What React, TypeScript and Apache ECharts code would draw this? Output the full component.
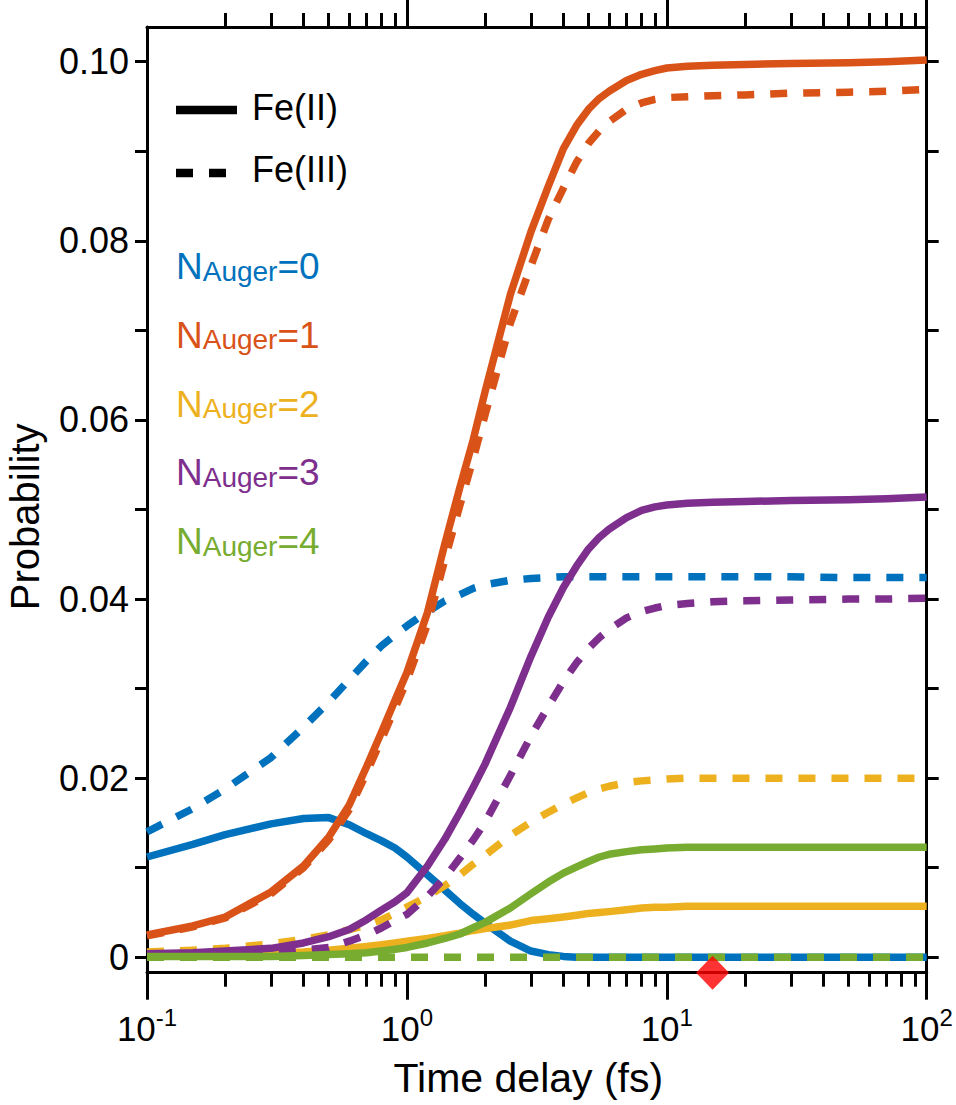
import React, { useEffect, useRef } from "react";
import * as echarts from "echarts";

// ---------- data ----------
const T = [0.1, 0.15, 0.2, 0.3, 0.4, 0.5, 0.6, 0.7, 0.8, 0.9, 1, 1.2, 1.4, 1.6, 1.8, 2, 2.5, 3, 3.5, 4, 4.5, 5, 5.5, 6, 7, 8, 9, 10, 12, 15, 20, 30, 50, 70, 100];

const N0_FE2 = [0.0112, 0.0126, 0.0137, 0.0149, 0.0155, 0.0156, 0.0148, 0.0138, 0.013, 0.0122, 0.0112, 0.0092, 0.0075, 0.006, 0.0048, 0.0038, 0.0018, 0.0007, 0.0003, 0.0001, 0, 0, 0, 0, 0, 0, 0, 0, 0, 0, 0, 0, 0, 0, 0];
const N0_FE3 = [0.014, 0.0166, 0.0188, 0.0223, 0.0257, 0.0285, 0.031, 0.0331, 0.0348, 0.036, 0.037, 0.0386, 0.0398, 0.0405, 0.0412, 0.0416, 0.0421, 0.0423, 0.0424, 0.0425, 0.0425, 0.0425, 0.0425, 0.0425, 0.0425, 0.0425, 0.0425, 0.0425, 0.0425, 0.0425, 0.0425, 0.0425, 0.0424, 0.0424, 0.0424];
const N1_FE2 = [0.0025, 0.0035, 0.0045, 0.0073, 0.0102, 0.0134, 0.017, 0.0213, 0.0252, 0.0287, 0.0318, 0.0385, 0.0462, 0.0525, 0.0578, 0.0632, 0.074, 0.081, 0.0861, 0.0903, 0.0929, 0.0947, 0.0959, 0.0967, 0.0979, 0.0986, 0.099, 0.0993, 0.0995, 0.0996, 0.0997, 0.0998, 0.0999, 0.1, 0.1002];
const N1_FE3 = [0.0024, 0.0034, 0.0044, 0.0071, 0.01, 0.0131, 0.0165, 0.0206, 0.0244, 0.0278, 0.0309, 0.0372, 0.0444, 0.0505, 0.0557, 0.0606, 0.0708, 0.0772, 0.0824, 0.0859, 0.0888, 0.0909, 0.0923, 0.0933, 0.0947, 0.0954, 0.0958, 0.096, 0.0961, 0.0962, 0.0963, 0.0965, 0.0966, 0.0967, 0.0969];
const N2_FE2 = [0.0002, 0.0003, 0.0003, 0.0005, 0.0006, 0.0008, 0.001, 0.0012, 0.0014, 0.0016, 0.0018, 0.0021, 0.0024, 0.0027, 0.003, 0.0032, 0.0036, 0.0041, 0.0043, 0.0045, 0.0047, 0.0049, 0.005, 0.0051, 0.0053, 0.0055, 0.0056, 0.0056, 0.0057, 0.0057, 0.0057, 0.0057, 0.0057, 0.0057, 0.0057];
const N2_FE3 = [0.0006, 0.0008, 0.001, 0.0015, 0.002, 0.0025, 0.0031, 0.0036, 0.0042, 0.0049, 0.0056, 0.0068, 0.008, 0.0092, 0.0104, 0.0114, 0.0136, 0.0151, 0.0162, 0.0171, 0.0178, 0.0184, 0.0188, 0.0191, 0.0195, 0.0197, 0.0198, 0.0199, 0.02, 0.02, 0.02, 0.02, 0.02, 0.02, 0.02];
const N3_FE2 = [0.0004, 0.0005, 0.0007, 0.001, 0.0016, 0.0023, 0.0031, 0.0042, 0.0053, 0.0062, 0.0072, 0.0102, 0.0132, 0.0162, 0.019, 0.0216, 0.0279, 0.0336, 0.038, 0.0413, 0.0437, 0.0456, 0.0469, 0.0478, 0.0491, 0.0499, 0.0503, 0.0505, 0.0507, 0.0508, 0.0509, 0.051, 0.0511, 0.0512, 0.0514];
const N3_FE3 = [0.0003, 0.0003, 0.0004, 0.0005, 0.0008, 0.0011, 0.0018, 0.0025, 0.0033, 0.0041, 0.0048, 0.0068, 0.0089, 0.0111, 0.0131, 0.0151, 0.0203, 0.0247, 0.028, 0.0308, 0.0329, 0.0345, 0.0357, 0.0366, 0.0379, 0.0386, 0.039, 0.0393, 0.0395, 0.0397, 0.0398, 0.0399, 0.04, 0.04, 0.0401];
const N4_FE2 = [0.0001, 0.0001, 0.0001, 0.0001, 0.0002, 0.0003, 0.0004, 0.0005, 0.0007, 0.0009, 0.0011, 0.0016, 0.0021, 0.0026, 0.0033, 0.0039, 0.0055, 0.0071, 0.0084, 0.0094, 0.0101, 0.0107, 0.0112, 0.0115, 0.0118, 0.012, 0.0121, 0.0122, 0.0123, 0.0123, 0.0123, 0.0123, 0.0123, 0.0123, 0.0123];
const N4_FE3 = [0, 0, 0, 0, 0, 0, 0, 0, 0, 0, 0, 0, 0, 0, 0, 0, 0, 0, 0, 0, 0, 0, 0, 0, 0, 0, 0, 0, 0, 0, 0, 0, 0, 0, 0];

const FE2_SETS = [N0_FE2, N1_FE2, N2_FE2, N3_FE2, N4_FE2];
const FE3_SETS = [N0_FE3, N1_FE3, N2_FE3, N3_FE3, N4_FE3];
const N_LABELS = ["0", "1", "2", "3", "4"];
const LEGEND_OX = ["Fe(II)", "Fe(III)"];

const MARKER_T = [15];

const Y_TICKS = [0, 0.01, 0.02, 0.03, 0.04, 0.05, 0.06, 0.07, 0.08, 0.09, 0.1];
const Y_LABELS = [0, 0.02, 0.04, 0.06, 0.08, 0.1];
const X_MAJOR = [0.1, 1, 10, 100];
const X_MAJOR_TOP = [1, 10, 100];
const X_MINOR = [0.2, 0.3, 0.4, 0.5, 0.6, 0.7, 0.8, 0.9, 2, 3, 4, 5, 6, 7, 8, 9, 20, 30, 40, 50, 60, 70, 80, 90];

// ---------- style ----------
const COLORS = ["#0072BD", "#D95319", "#EDB120", "#7E2F8E", "#77AC30"];
const FONT = "'Liberation Sans', Arial, Helvetica, sans-serif";
const Y_MIN = -0.00172;
const Y_MAX = 0.10388;
const LW = 7.5;
const DASH = [17, 16];

function buildOption() {
  const series: any[] = [];
  for (let i = 0; i < 5; i++) {
    [FE2_SETS[i], FE3_SETS[i]].forEach((vals, k) => {
      series.push({
        type: "line",
        name: `N${i}-${LEGEND_OX[k]}`,
        xAxisIndex: 0,
        yAxisIndex: 0,
        data: T.map((t, j) => [t, vals[j]]),
        symbol: "none",
        showSymbol: false,
        silent: true,
        clip: false,
        lineStyle: {
          color: COLORS[i],
          width: LW,
          type: k === 0 ? "solid" : DASH,
          cap: "butt",
          join: "round",
        },
        emphasis: { disabled: true },
      });
    });
  }
  series.push({
    type: "scatter",
    xAxisIndex: 0,
    yAxisIndex: 0,
    data: MARKER_T.map((t) => [t, Y_MIN]),
    symbol: "diamond",
    symbolSize: [33, 34],
    itemStyle: { color: "#FF0000" },
    clip: false,
    silent: true,
    z: 10,
  });

  const axisLineStyle = { color: "#000", width: 3 };
  const baseX = {
    type: "log",
    logBase: 10,
    min: 0.1,
    max: 100,
    splitLine: { show: false },
    minorTick: { show: false },
  };
  const xLabelRich = {
    b: { fontSize: 35, lineHeight: 40, color: "#000", fontFamily: FONT, verticalAlign: "bottom" },
    s: { fontSize: 24, lineHeight: 24, color: "#000", fontFamily: FONT, verticalAlign: "top" },
  };

  const graphic: any[] = [
    { type: "line", shape: { x1: 176, y1: 110, x2: 237, y2: 110 }, style: { stroke: "#000", lineWidth: 8.5 }, silent: true },
    { type: "line", shape: { x1: 176, y1: 173, x2: 227, y2: 173 }, style: { stroke: "#000", lineWidth: 8.5, lineDash: DASH }, silent: true },
    { type: "text", x: 252, y: 107, style: { text: LEGEND_OX[0], fontSize: 36, fontFamily: FONT, fill: "#000", verticalAlign: "middle" }, silent: true },
    { type: "text", x: 252, y: 169, style: { text: LEGEND_OX[1], fontSize: 36, fontFamily: FONT, fill: "#000", verticalAlign: "middle" }, silent: true },
  ];
  N_LABELS.forEach((n, i) => {
    graphic.push({
      type: "text",
      x: 176,
      y: 260 + i * 68.75,
      silent: true,
      style: {
        text: `{n|N}{s|Auger}{n|=${n}}`,
        fill: COLORS[i],
        fontFamily: FONT,
        verticalAlign: "middle",
        rich: {
          n: { fontSize: 37, lineHeight: 50, fill: COLORS[i], fontFamily: FONT, verticalAlign: "bottom" },
          s: { fontSize: 28, lineHeight: 28, fill: COLORS[i], fontFamily: FONT, verticalAlign: "bottom" },
        },
      },
    });
  });

  return {
    animation: false,
    backgroundColor: "#fff",
    grid: { left: 147, right: 29.3, top: 27, bottom: 132.3, containLabel: false, outerBoundsMode: "none" },
    xAxis: [
      {
        ...baseX,
        position: "bottom",
        axisLine: { show: true, onZero: false, lineStyle: axisLineStyle },
        axisTick: { show: true, inside: false, length: 27, lineStyle: axisLineStyle, customValues: X_MAJOR },
        axisLabel: {
          show: true,
          customValues: X_MAJOR,
          margin: 33,
          formatter: (v: number) => `{b|10}{s|${Math.round(Math.log10(v))}}`,
          rich: xLabelRich,
        },
        name: "Time delay (fs)",
        nameLocation: "middle",
        nameGap: 85,
        nameTextStyle: { fontSize: 41, color: "#000", fontFamily: FONT, padding: [0, 17, 0, 0] },
      },
      {
        ...baseX,
        position: "top",
        axisLine: { show: true, onZero: false, lineStyle: axisLineStyle },
        axisTick: { show: true, inside: false, length: 27, lineStyle: axisLineStyle, customValues: X_MAJOR_TOP },
        axisLabel: { show: false },
      },
      {
        ...baseX,
        position: "bottom",
        axisLine: { show: false, onZero: false },
        axisTick: { show: true, inside: false, length: 14, lineStyle: axisLineStyle, customValues: X_MINOR },
        axisLabel: { show: false },
      },
      {
        ...baseX,
        position: "top",
        axisLine: { show: false, onZero: false },
        axisTick: { show: true, inside: false, length: 14, lineStyle: axisLineStyle, customValues: X_MINOR },
        axisLabel: { show: false },
      },
    ],
    yAxis: [
      {
        type: "value",
        position: "left",
        min: Y_MIN,
        max: Y_MAX,
        splitLine: { show: false },
        axisLine: { show: true, onZero: false, lineStyle: axisLineStyle },
        axisTick: { show: true, inside: false, length: 12, lineStyle: axisLineStyle, customValues: Y_TICKS },
        axisLabel: {
          show: true,
          customValues: Y_LABELS,
          margin: 18,
          fontSize: 36,
          color: "#000",
          fontFamily: FONT,
          formatter: (v: number) => (Math.abs(v) < 1e-9 ? "0" : v.toFixed(2)),
        },
        name: "Probability",
        nameLocation: "middle",
        nameGap: 102,
        nameTextStyle: { fontSize: 40, color: "#000", fontFamily: FONT, padding: [0, 34, 0, 0] },
      },
      {
        type: "value",
        position: "right",
        min: Y_MIN,
        max: Y_MAX,
        splitLine: { show: false },
        axisLine: { show: true, onZero: false, lineStyle: axisLineStyle },
        axisTick: { show: true, inside: false, length: 12, lineStyle: axisLineStyle, customValues: Y_TICKS },
        axisLabel: { show: false },
      },
    ],
    graphic,
    series,
  };
}

export default function App() {
  const ref = useRef<HTMLDivElement>(null);
  useEffect(() => {
    if (!ref.current) return;
    const chart = echarts.init(ref.current, null, { renderer: "svg" });
    chart.setOption(buildOption() as any);
    return () => chart.dispose();
  }, []);
  return (
    <div
      ref={ref}
      style={{ position: "absolute", left: 0, top: 0, width: 956, height: 1105, background: "#fff" }}
    />
  );
}
